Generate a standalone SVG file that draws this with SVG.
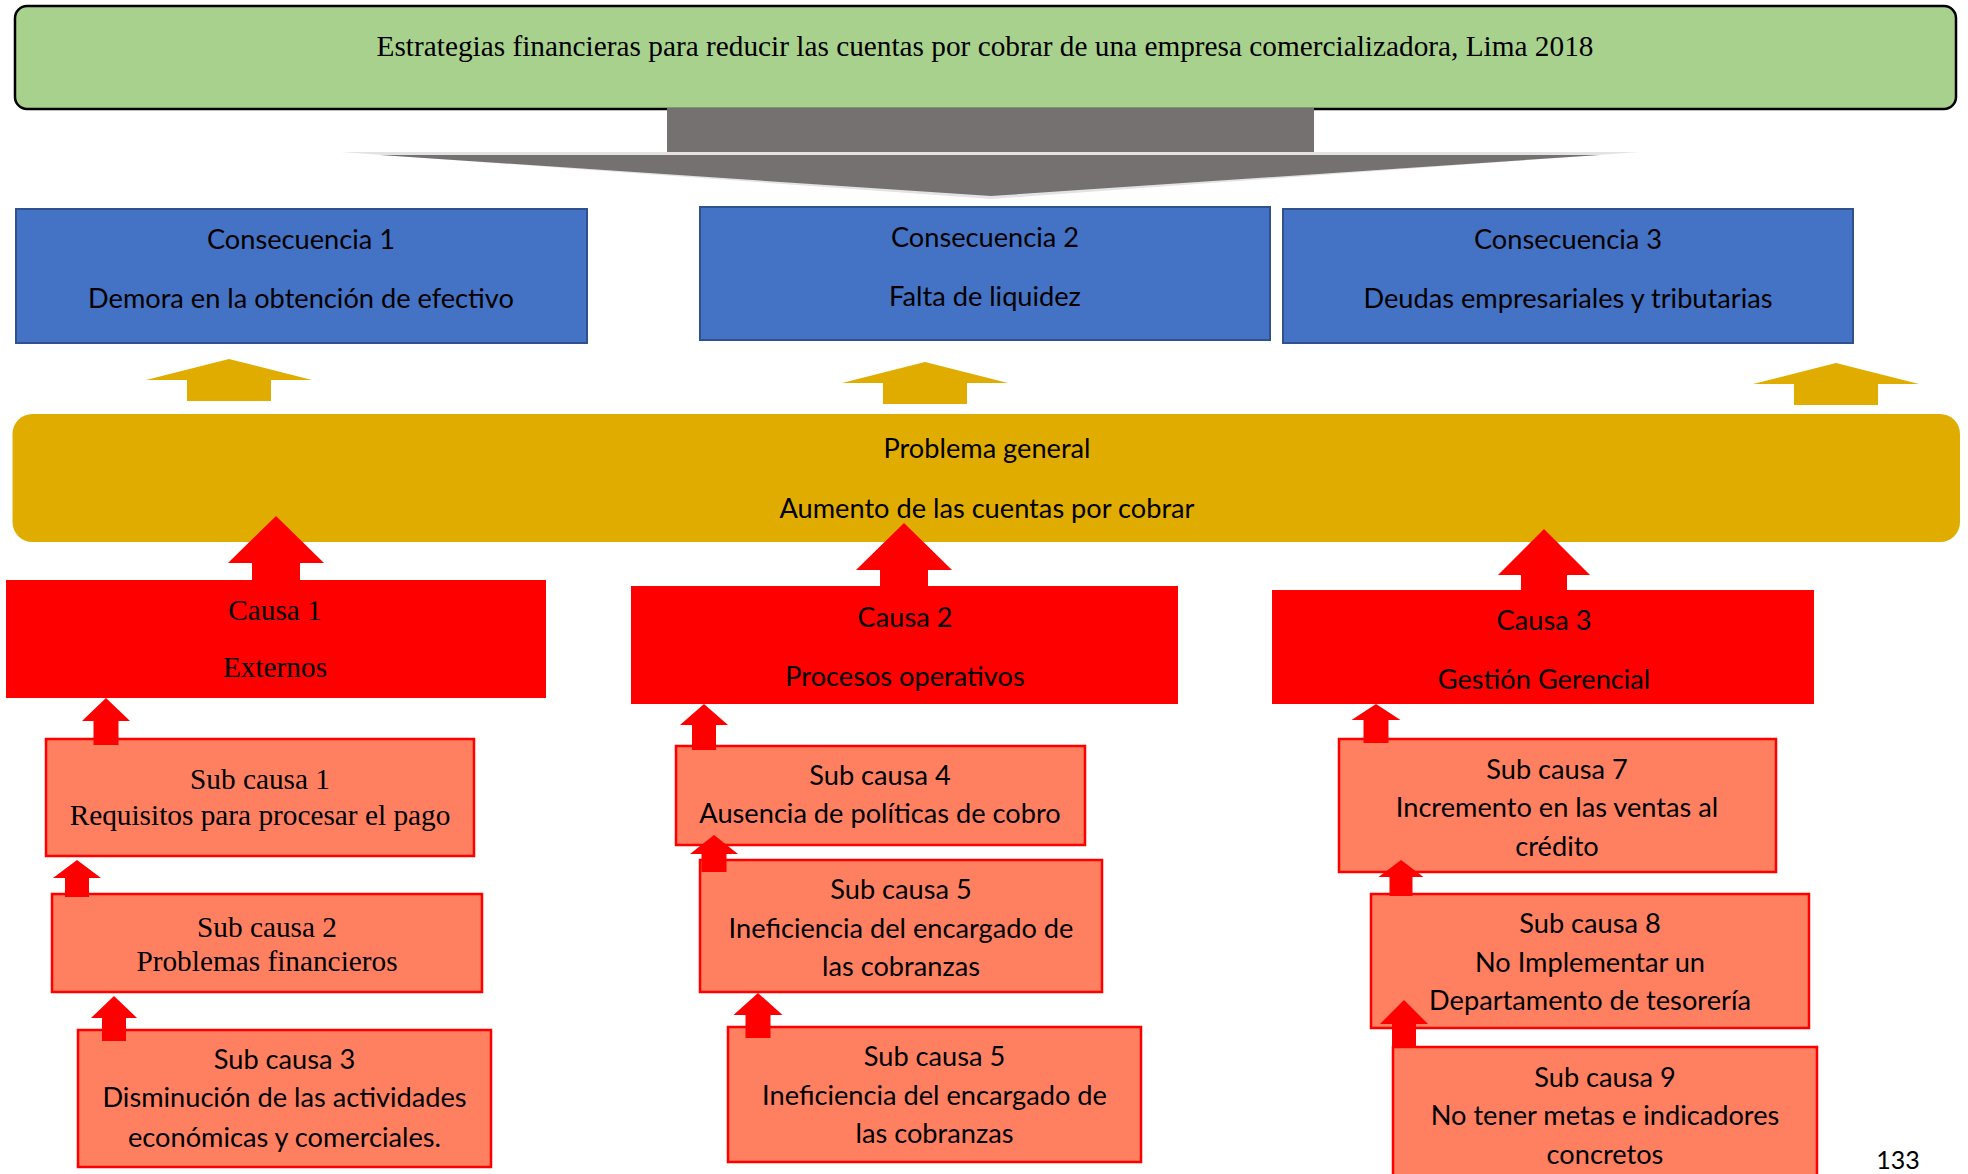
<svg xmlns="http://www.w3.org/2000/svg" width="1968" height="1174" viewBox="0 0 1968 1174">
  <style>
    .ser { font-family: "Liberation Serif", "Times New Roman", serif; font-size: 29.3px; fill: #000; text-anchor: middle; }
    .san { font-family: Lato, "Liberation Sans", sans-serif; font-size: 27.2px; fill: #000; text-anchor: middle; }
    .cons { fill: #4472C4; stroke: #2F528F; stroke-width: 2; }
    .causa { fill: #FF0000; }
    .sub { fill: #FF7F61; stroke: #FF0000; stroke-width: 2.5; }
    .up-gold { fill: #E0AC00; }
    .up-red { fill: #FF0000; }
  </style>
  <rect width="1968" height="1174" fill="#FFFFFF"/>

  <!-- Title -->
  <g id="titulo">
    <rect x="15" y="6" width="1941" height="103" rx="12" fill="#A9D18E" stroke="#000" stroke-width="2.5"/>
    <text class="ser" x="985" y="56">Estrategias financieras para reducir las cuentas por cobrar de una empresa comercializadora, Lima 2018</text>
  </g>

  <!-- Consequences -->
  <g id="consecuencia1">
    <rect class="cons" x="16" y="209" width="571" height="134"/>
    <text class="san" x="301" y="249">Consecuencia 1</text>
    <text class="san" x="301" y="308">Demora en la obtención de efectivo</text>
  </g>
  <g id="consecuencia2">
    <rect class="cons" x="700" y="207" width="570" height="133"/>
    <text class="san" x="985" y="247">Consecuencia 2</text>
    <text class="san" x="985" y="306">Falta de liquidez</text>
  </g>
  <g id="consecuencia3">
    <rect class="cons" x="1283" y="209" width="570" height="134"/>
    <text class="san" x="1568" y="249">Consecuencia 3</text>
    <text class="san" x="1568" y="308">Deudas empresariales y tributarias</text>
  </g>

  <!-- General problem -->
  <g id="problema">
    <rect x="12.5" y="414" width="1947.5" height="128" rx="20" fill="#E0AC00"/>
    <text class="san" x="987" y="458">Problema general</text>
    <text class="san" x="987" y="518">Aumento de las cuentas por cobrar</text>
  </g>

  <!-- Causes -->
  <g id="causa1">
    <rect class="causa" x="6" y="580" width="540" height="118"/>
    <text class="ser" x="275" y="620">Causa 1</text>
    <text class="ser" x="275" y="677">Externos</text>
  </g>
  <g id="causa2">
    <rect class="causa" x="631" y="586" width="547" height="118"/>
    <text class="san" x="905" y="627">Causa 2</text>
    <text class="san" x="905" y="686">Procesos operativos</text>
  </g>
  <g id="causa3">
    <rect class="causa" x="1272" y="590" width="542" height="114"/>
    <text class="san" x="1544" y="630">Causa 3</text>
    <text class="san" x="1544" y="689">Gestión Gerencial</text>
  </g>

  <!-- Sub causes -->
  <g id="subcausa1">
    <rect class="sub" x="46" y="739" width="428" height="117"/>
    <text class="ser" x="260" y="789">Sub causa 1</text>
    <text class="ser" x="260" y="825">Requisitos para procesar el pago</text>
  </g>
  <g id="subcausa2">
    <rect class="sub" x="52" y="894" width="430" height="98"/>
    <text class="ser" x="267" y="937">Sub causa 2</text>
    <text class="ser" x="267" y="971">Problemas financieros</text>
  </g>
  <g id="subcausa3">
    <rect class="sub" x="78" y="1030" width="413" height="137"/>
    <text class="san" x="284.5" y="1069">Sub causa 3</text>
    <text class="san" x="284.5" y="1107">Disminución de las actividades</text>
    <text class="san" x="284.5" y="1147">económicas y comerciales.</text>
  </g>
  <g id="subcausa4">
    <rect class="sub" x="676" y="746" width="409" height="99"/>
    <text class="san" x="880" y="785">Sub causa 4</text>
    <text class="san" x="880" y="823">Ausencia de políticas de cobro</text>
  </g>
  <g id="subcausa5a">
    <rect class="sub" x="700" y="860" width="402" height="132"/>
    <text class="san" x="901" y="899">Sub causa 5</text>
    <text class="san" x="901" y="938">Ineficiencia del encargado de</text>
    <text class="san" x="901" y="976">las cobranzas</text>
  </g>
  <g id="subcausa5b">
    <rect class="sub" x="728" y="1027" width="413" height="135"/>
    <text class="san" x="934.5" y="1066">Sub causa 5</text>
    <text class="san" x="934.5" y="1105">Ineficiencia del encargado de</text>
    <text class="san" x="934.5" y="1143">las cobranzas</text>
  </g>
  <g id="subcausa7">
    <rect class="sub" x="1339" y="739" width="437" height="133"/>
    <text class="san" x="1557" y="779">Sub causa 7</text>
    <text class="san" x="1557" y="817">Incremento en las ventas al</text>
    <text class="san" x="1557" y="856">crédito</text>
  </g>
  <g id="subcausa8">
    <rect class="sub" x="1371" y="894" width="438" height="134"/>
    <text class="san" x="1590" y="933">Sub causa 8</text>
    <text class="san" x="1590" y="972">No Implementar un</text>
    <text class="san" x="1590" y="1010">Departamento de tesorería</text>
  </g>
  <g id="subcausa9">
    <rect class="sub" x="1393" y="1047" width="424" height="140"/>
    <text class="san" x="1605" y="1087">Sub causa 9</text>
    <text class="san" x="1605" y="1125">No tener metas e indicadores</text>
    <text class="san" x="1605" y="1164">concretos</text>
  </g>

  <!-- Connectors: block arrows -->
  <g id="conectores">
    <!-- wide grey arrow from the title down to the consequences -->
    <rect x="667" y="108" width="647" height="48" fill="#767171"/>
    <polygon points="341,152 1639,152 991,199" fill="#E4E3E3"/>
    <polygon points="380,155 1600,155 991,196" fill="#767171"/>

    <!-- gold arrows: problem to consequences -->
    <polygon class="up-gold" points="229,359 312,380 271,380 271,401 187,401 187,380 146,380"/>
    <polygon class="up-gold" points="925,362 1008,383 967,383 967,404 883,404 883,383 842,383"/>
    <polygon class="up-gold" points="1836,363 1919,384 1878,384 1878,405 1794,405 1794,384 1753,384"/>

    <!-- red arrows: causes to problem -->
    <polygon class="up-red" points="276,516 324,563 300,563 300,582 252,582 252,563 228,563"/>
    <polygon class="up-red" points="904,523 952,570 928,570 928,588 880,588 880,570 856,570"/>
    <polygon class="up-red" points="1544,529 1590,575 1567,575 1567,592 1521,592 1521,575 1498,575"/>

    <!-- small red arrows: sub causes to causes -->
    <polygon class="up-red" points="106,698 130,721 118.5,721 118.5,745 93.5,745 93.5,721 82,721"/>
    <polygon class="up-red" points="77,860 101,878 89,878 89,897 65,897 65,878 53,878"/>
    <polygon class="up-red" points="114,996 137,1018 126,1018 126,1041 102,1041 102,1018 91,1018"/>
    <polygon class="up-red" points="704,704 728,725 716,725 716,750 692,750 692,725 680,725"/>
    <polygon class="up-red" points="714,835 738,854 726.5,854 726.5,872 701.5,872 701.5,854 690,854"/>
    <polygon class="up-red" points="758,993 782.5,1015 770.5,1015 770.5,1038 745.5,1038 745.5,1015 733.5,1015"/>
    <polygon class="up-red" points="1376,704 1400.5,720 1388.5,720 1388.5,743 1363.5,743 1363.5,720 1351.5,720"/>
    <polygon class="up-red" points="1401,860 1423.5,877 1412.5,877 1412.5,896 1389.5,896 1389.5,877 1378.5,877"/>
    <polygon class="up-red" points="1404,1000 1428,1024 1416,1024 1416,1047 1392,1047 1392,1024 1380,1024"/>
  </g>

  <!-- page number -->
  <text class="san" x="1898" y="1169" style="font-size:25px">133</text>
</svg>
